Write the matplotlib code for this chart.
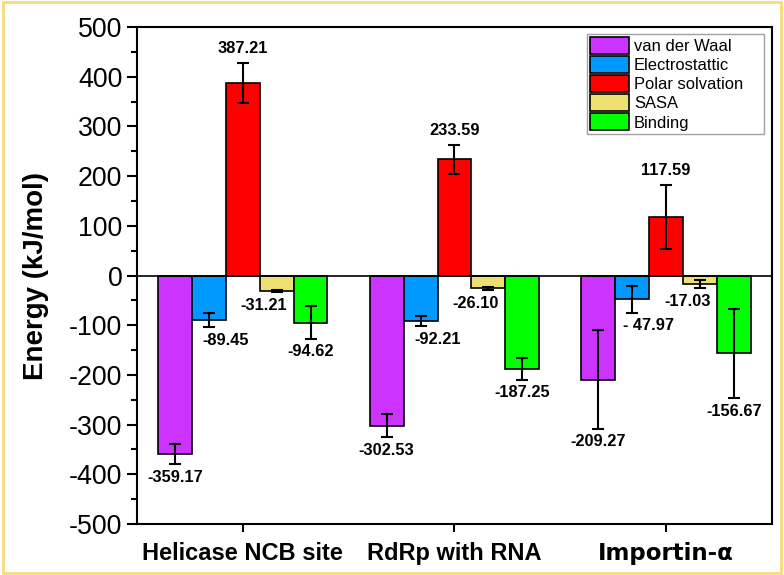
import numpy as np
import matplotlib.pyplot as plt
from matplotlib.patches import Rectangle
from matplotlib.ticker import MultipleLocator

plt.rcParams['font.family'] = ['Liberation Sans', 'DejaVu Sans']
plt.rcParams['axes.unicode_minus'] = False

# data
groups = ['Helicase NCB site', 'RdRp with RNA', 'Importin-α']
terms = ['van der Waal', 'Electrostattic', 'Polar solvation', 'SASA', 'Binding']
vdw = [-359.17, -302.53, -209.27]
elec = [-89.45, -92.21, -47.97]
polar = [387.21, 233.59, 117.59]
sasa = [-31.21, -26.10, -17.03]
binding = [-94.62, -187.25, -156.67]
vdw_err = [20, 23, 99]
elec_err = [15, 10, 27]
polar_err = [40, 29, 64]
sasa_err = [2, 3, 9]
binding_err = [33, 22, 90]
labels_txt = [
    ['-359.17', '-302.53', '-209.27'],
    ['-89.45', '-92.21', '- 47.97'],
    ['387.21', '233.59', '117.59'],
    ['-31.21', '-26.10', '-17.03'],
    ['-94.62', '-187.25', '-156.67'],
]

values = [vdw, elec, polar, sasa, binding]
errors = [vdw_err, elec_err, polar_err, sasa_err, binding_err]
colors = ['#CC33FF', '#0099FF', '#FF0000', '#EEE070', '#00FF00']
label_dx = [0, 12, 0, -9, 0]   # small manual shifts in points

fig = plt.figure(figsize=(7.84, 5.75), dpi=100)
ax = fig.add_axes([0.1747, 0.0887, 0.81, 0.8643])

x = np.arange(1, len(groups) + 1)
w = 0.16
for i in range(len(terms)):
    pos = x + (i - 2) * w
    ax.bar(pos, values[i], w, color=colors[i], edgecolor='black', linewidth=1.2,
           label=terms[i], zorder=2)
    ax.errorbar(pos, values[i], yerr=errors[i], fmt='none', ecolor='black',
                elinewidth=1.5, capsize=4.5, capthick=1.5, zorder=3)
    for j in range(len(groups)):
        v = values[i][j]
        e = errors[i][j]
        if v >= 0:
            ax.annotate(labels_txt[i][j], (pos[j], v + e), xytext=(label_dx[i], 5),
                        textcoords='offset points', ha='center', va='bottom',
                        fontsize=11.8, fontweight='bold')
        else:
            ax.annotate(labels_txt[i][j], (pos[j], v - e), xytext=(label_dx[i], -4),
                        textcoords='offset points', ha='center', va='top',
                        fontsize=11.8, fontweight='bold')

ax.axhline(0, color='black', linewidth=1.2, zorder=2)
ax.set_xlim(0.5, 3.5)
ax.set_ylim(-500, 500)
ax.yaxis.set_major_locator(MultipleLocator(100))
ax.yaxis.set_minor_locator(MultipleLocator(50))
ax.set_xticks(x)
ax.set_xticklabels(groups, fontsize=17, fontweight='bold')
ax.get_xticklabels()[2].set_family('DejaVu Sans')
ax.get_xticklabels()[2].set_fontsize(16.5)
ax.tick_params(axis='y', which='major', labelsize=19.3, length=7, width=1.5, direction='out')
ax.tick_params(axis='y', which='minor', length=4, width=1.5, direction='out')
ax.tick_params(axis='x', which='major', length=6, width=1.5, direction='out', pad=7)
for s in ax.spines.values():
    s.set_linewidth(1.5)
ax.set_ylabel('Energy (kJ/mol)', fontsize=20, fontweight='bold')
ax.yaxis.set_label_coords(-0.139, 0.5)

leg = ax.legend(loc='upper left', fontsize=11.9, frameon=True, fancybox=False,
                edgecolor='#888888', handlelength=2.35, handleheight=1.2,
                handletextpad=0.3, labelspacing=0.12, borderpad=0.2,
                borderaxespad=0, mode='expand',
                bbox_to_anchor=(0.7087, 0.5, 0.2787, 0.4859))
leg.get_frame().set_linewidth(1.0)

# thin gold border around the picture
fig.patches.append(Rectangle((0.004, 0.004), 0.992, 0.992, transform=fig.transFigure,
                             fill=False, edgecolor='#F8DA78', linewidth=2))

fig.savefig('out.png', dpi=100)
